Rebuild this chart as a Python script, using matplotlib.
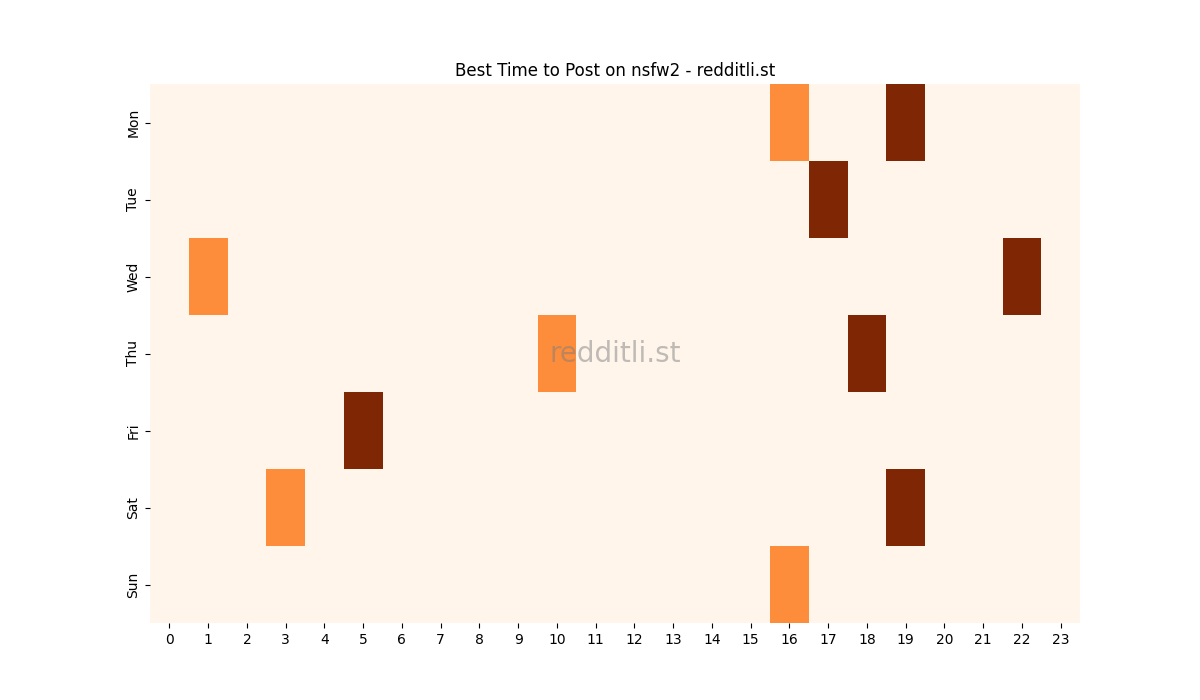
import numpy as np
import matplotlib
matplotlib.use("Agg")
import matplotlib.pyplot as plt
import seaborn as sns

days = ["Mon", "Tue", "Wed", "Thu", "Fri", "Sat", "Sun"]
hours = list(range(24))

# (day, hour, score) for the highlighted cells, everything else is 0
mon = {16: 1, 19: 2}
tue = {17: 2}
wed = {1: 1, 22: 2}
thu = {10: 1, 18: 2}
fri = {5: 2}
sat = {3: 1, 19: 2}
sun = {16: 1}

rows = [mon, tue, wed, thu, fri, sat, sun]
grid = np.zeros((len(days), len(hours)))
for i, r in enumerate(rows):
    for h, v in r.items():
        grid[i, h] = v

fig = plt.figure(figsize=(12, 7), dpi=100)
ax = fig.add_subplot(111)
sns.heatmap(grid, cmap="Oranges", vmin=0, vmax=2, cbar=False,
            xticklabels=hours, yticklabels=days, ax=ax)
ax.set_yticklabels(days, rotation=90, va="center")
ax.set_xticklabels(hours, rotation=0)
ax.set_title("Best Time to Post on nsfw2 - redditli.st")
ax.text(0.5, 0.5, "redditli.st", transform=ax.transAxes, fontsize=20,
        color="gray", alpha=0.5, ha="center", va="center")

plt.savefig("out.png")
